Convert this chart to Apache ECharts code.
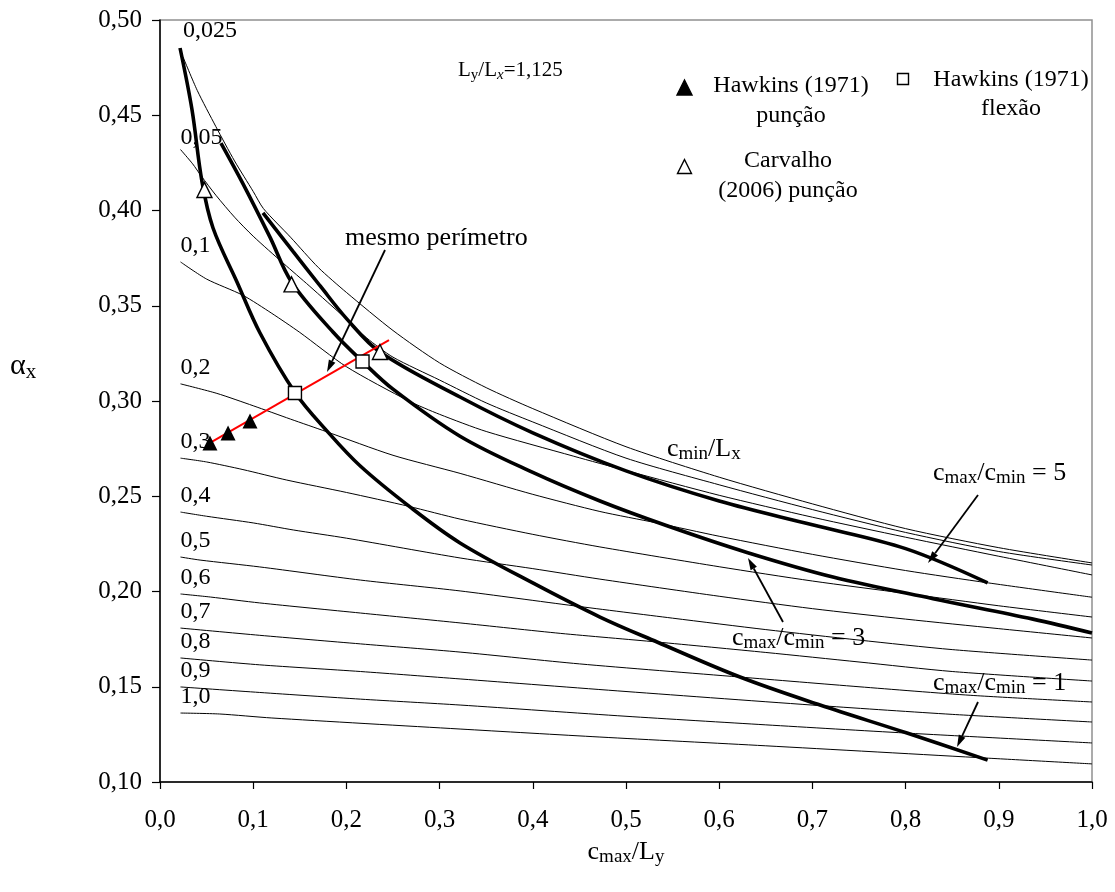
<!DOCTYPE html>
<html>
<head>
<meta charset="utf-8">
<script src="https://cdn.jsdelivr.net/npm/echarts@6/dist/echarts.min.js"></script>
<style>
html,body{margin:0;padding:0;background:#fff;}
#chart{width:1115px;height:892px;}
</style>
</head>
<body>
<div id="chart"></div>
<script>
// ---------- tick labels ----------
const xTickLabels = ['0,0','0,1','0,2','0,3','0,4','0,5','0,6','0,7','0,8','0,9','1,0'];
const yTickLabels = ['0,10','0,15','0,20','0,25','0,30','0,35','0,40','0,45','0,50'];

// ---------- thin curves: c_min/L_x = constant ----------
const curveNames = ['0,025','0,05','0,1','0,2','0,3','0,4','0,5','0,6','0,7','0,8','0,9','1,0'];
const c0025 = [[0.0247,0.4806],[0.04,0.463],[0.06,0.444],[0.08,0.426],[0.1,0.410],[0.111,0.401],[0.14,0.386],[0.17,0.370],[0.2,0.357],[0.25,0.337],[0.3,0.320],[0.35,0.307],[0.4,0.296],[0.5,0.276],[0.6,0.260],[0.7,0.246],[0.8,0.233],[0.9,0.223],[1.0,0.215]];
const c005 = [[0.022,0.432],[0.035,0.4245],[0.0444,0.418],[0.06,0.408],[0.08,0.3965],[0.1,0.3865],[0.133,0.372],[0.16,0.3605],[0.2,0.343],[0.222,0.333],[0.25,0.323],[0.3,0.311],[0.35,0.299],[0.4,0.289],[0.5,0.270],[0.6,0.256],[0.7,0.243],[0.8,0.231],[0.9,0.221],[1.0,0.2139]];
const c01 = [[0.022,0.373],[0.05,0.364],[0.0889,0.3555],[0.12,0.346],[0.15,0.336],[0.2,0.318],[0.267,0.300],[0.3,0.293],[0.35,0.284],[0.444,0.271],[0.5,0.2635],[0.6,0.2505],[0.7,0.239],[0.8,0.2285],[0.9,0.2185],[1.0,0.2087]];
const c02 = [[0.022,0.309],[0.061,0.304],[0.1,0.2975],[0.14,0.2905],[0.178,0.284],[0.25,0.2715],[0.322,0.262],[0.4,0.251],[0.472,0.242],[0.533,0.236],[0.6,0.229],[0.7,0.2195],[0.8,0.211],[0.889,0.2045],[1.0,0.197]];
const c03 = [[0.022,0.270],[0.05,0.268],[0.089,0.264],[0.136,0.2585],[0.2,0.252],[0.267,0.2447],[0.322,0.238],[0.4,0.230],[0.472,0.2234],[0.6,0.213],[0.7,0.2055],[0.8,0.199],[0.9,0.1925],[1.0,0.1866]];
const c04 = [[0.022,0.2417],[0.05,0.2395],[0.1,0.236],[0.143,0.2323],[0.2,0.228],[0.322,0.2176],[0.4,0.212],[0.472,0.2065],[0.6,0.1975],[0.7,0.191],[0.8,0.1855],[0.9,0.1805],[1.0,0.1756]];
const c05 = [[0.022,0.2181],[0.043,0.2165],[0.107,0.2129],[0.215,0.206],[0.322,0.2003],[0.444,0.1925],[0.55,0.186],[0.65,0.180],[0.75,0.1745],[0.85,0.1695],[1.0,0.164]];
const c06 = [[0.022,0.1987],[0.054,0.1971],[0.107,0.194],[0.215,0.1887],[0.322,0.1835],[0.43,0.178],[0.533,0.1735],[0.65,0.168],[0.75,0.163],[0.85,0.158],[1.0,0.153]];
const c07 = [[0.022,0.1808],[0.107,0.177],[0.215,0.1725],[0.322,0.1682],[0.45,0.162],[0.622,0.1551],[0.75,0.150],[0.87,0.1455],[1.0,0.142]];
const c08 = [[0.022,0.1651],[0.107,0.1615],[0.215,0.158],[0.322,0.1541],[0.5,0.1475],[0.711,0.140],[0.85,0.1355],[1.0,0.1315]];
const c09 = [[0.022,0.1499],[0.107,0.147],[0.215,0.1435],[0.322,0.1404],[0.5,0.1345],[0.65,0.130],[0.8,0.1257],[1.0,0.1205]];
const c10 = [[0.022,0.1362],[0.064,0.1357],[0.12,0.1336],[0.322,0.1278],[0.472,0.1236],[0.65,0.119],[0.889,0.1125],[1.0,0.1095]];
const thinCurves = [c0025,c005,c01,c02,c03,c04,c05,c06,c07,c08,c09,c10];

// ---------- thick curves: c_max/c_min = constant ----------
const ratio1 = [[0.0215,0.4853],[0.0343,0.453],[0.0451,0.4150],[0.0569,0.3908],[0.0826,0.3625],[0.1073,0.3357],[0.1448,0.3045],[0.18,0.2838],[0.2146,0.2660],[0.2682,0.2444],[0.3219,0.2255],[0.4,0.2045],[0.4721,0.1866],[0.5333,0.1735],[0.6223,0.1551],[0.7082,0.1404],[0.8015,0.1257],[0.888,0.1115]];
const ratio3 = [[0.0654,0.4354],[0.0891,0.4140],[0.118,0.386],[0.1411,0.3625],[0.1856,0.3362],[0.2173,0.3207],[0.25,0.3062],[0.3219,0.2815],[0.4,0.2625],[0.4721,0.2475],[0.544,0.2345],[0.6298,0.2205],[0.7221,0.2076],[0.8294,0.1962],[0.9367,0.1855],[1.0,0.1782]];
const ratio5 = [[0.1105,0.3987],[0.1427,0.3785],[0.1717,0.3605],[0.2006,0.343],[0.236,0.3257],[0.3219,0.3021],[0.4,0.2833],[0.5,0.2633],[0.6,0.2475],[0.7,0.235],[0.8,0.2225],[0.888,0.2045]];

// ---------- "mesmo perímetro" line and experimental points ----------
const samePerimeter = [[0.0536,0.278],[0.2457,0.332]];
const hawkinsPuncao = [[0.0536,0.278],[0.073,0.2832],[0.0966,0.2895]];
const hawkinsFlexao = [[0.1448,0.3042],[0.2173,0.3207]];
const carvalhoPuncao = [[0.0477,0.4108],[0.1411,0.3612],[0.236,0.3257]];

const F = '"Liberation Serif","Times New Roman",serif';

const series = [];
thinCurves.forEach((d, i) => {
  series.push({
    type: 'line', name: 'cmin/Lx = ' + curveNames[i], data: d,
    showSymbol: false, symbol: 'none', smooth: 0.25,
    lineStyle: {color: '#000', width: 1}, silent: true, z: 2
  });
});
[ratio1, ratio3, ratio5].forEach((d, i) => {
  series.push({
    type: 'line', name: 'cmax/cmin = ' + [1,3,5][i], data: d,
    showSymbol: false, symbol: 'none', smooth: 0.35,
    lineStyle: {color: '#000', width: 3.6, cap: 'butt'}, silent: true, z: 3
  });
});
series.push({
  type: 'line', name: 'mesmo perímetro', data: samePerimeter,
  showSymbol: false, symbol: 'none', lineStyle: {color: '#ff0000', width: 2}, silent: true, z: 4
});
// curve labels attached to the start of each thin curve
const labelDist = {'0,025': 14, '0,05': 0};
series.push({
  type: 'scatter', name: 'labels', silent: true, z: 1,
  symbolSize: 0, itemStyle: {opacity: 1},
  data: thinCurves.map((d, i) => ({
    value: d[0],
    label: {
      show: true, position: 'top', align: 'left',
      distance: (labelDist[curveNames[i]] !== undefined ? labelDist[curveNames[i]] : 4),
      formatter: curveNames[i], color: '#000', fontFamily: F, fontSize: 24
    }
  }))
});
series.push({
  type: 'scatter', name: 'Hawkins (1971) punção', data: hawkinsPuncao, symbol: 'triangle',
  symbolSize: 15, itemStyle: {color: '#000', opacity: 1}, silent: true, z: 6
});
series.push({
  type: 'scatter', name: 'Hawkins (1971) flexão', data: hawkinsFlexao, symbol: 'rect',
  symbolSize: 13, itemStyle: {color: '#fff', borderColor: '#000', borderWidth: 1.4, opacity: 1}, silent: true, z: 6
});
series.push({
  type: 'scatter', name: 'Carvalho (2006) punção', data: carvalhoPuncao, symbol: 'triangle',
  symbolSize: 15, itemStyle: {color: '#fff', borderColor: '#000', borderWidth: 1.4, opacity: 1}, silent: true, z: 6
});

const option = {
  animation: false,
  backgroundColor: '#fff',
  grid: {left: 160, right: 23, top: 20, bottom: 110, show: true, borderColor: '#909090', borderWidth: 1.5,
         backgroundColor: 'transparent', containLabel: false, outerBoundsMode: 'none'},
  xAxis: {
    type: 'value', min: 0, max: 1, interval: 0.1,
    axisLine: {show: true, lineStyle: {color: '#000', width: 1.5}},
    axisTick: {show: true, inside: false, length: 7, lineStyle: {color: '#000', width: 1.2}},
    splitLine: {show: false},
    axisLabel: {margin: 26, color: '#000', fontFamily: F, fontSize: 25,
      formatter: v => xTickLabels[Math.round(v * 10)]}
  },
  yAxis: {
    type: 'value', min: 0.1, max: 0.5, interval: 0.05,
    axisLine: {show: true, lineStyle: {color: '#000', width: 1.5}},
    axisTick: {show: true, inside: false, length: 8, lineStyle: {color: '#000', width: 1.2}},
    splitLine: {show: false},
    axisLabel: {margin: 18, color: '#000', fontFamily: F, fontSize: 25,
      formatter: v => yTickLabels[Math.round((v - 0.1) / 0.05)]}
  },
  series: series
};

const chart = echarts.init(document.getElementById('chart'));
chart.setOption(option);

// ---------- annotations ----------
function richStyles(main, sub) {
  return {
    m: {fontFamily: F, fontSize: main, lineHeight: main + 4, fill: '#000'},
    s: {fontFamily: F, fontSize: sub, lineHeight: sub, verticalAlign: 'bottom', fill: '#000'},
    i: {fontFamily: F, fontSize: sub, lineHeight: sub, verticalAlign: 'bottom', fill: '#000', fontStyle: 'italic'}
  };
}
function rich(x, y, text, main, sub, align) {
  return {type: 'text', x: x, y: y, silent: true, z: 50,
    style: {text: text, rich: richStyles(main, sub), align: align || 'left', verticalAlign: 'middle', fill: '#000'}};
}
function plain(x, y, text, size, align, lh) {
  return {type: 'text', x: x, y: y, silent: true, z: 50,
    style: {text: text, fontFamily: F, fontSize: size, lineHeight: lh || size + 4, fill: '#000',
            align: align || 'left', verticalAlign: 'middle'}};
}
function arrow(x1, y1, x2, y2) {
  const a = Math.atan2(y2 - y1, x2 - x1), L = 12, W = 3.6;
  const bx = x2 - L * Math.cos(a), by = y2 - L * Math.sin(a);
  const nx = -Math.sin(a), ny = Math.cos(a);
  return [
    {type: 'line', silent: true, z: 40, shape: {x1: x1, y1: y1, x2: bx, y2: by}, style: {stroke: '#000', lineWidth: 1.8}},
    {type: 'polygon', silent: true, z: 40, shape: {points: [[x2, y2], [bx + nx * W, by + ny * W], [bx - nx * W, by - ny * W]]}, style: {fill: '#000'}}
  ];
}
function tri(cx, cy, s, filled) {
  return {type: 'polygon', silent: true, z: 50,
    shape: {points: [[cx, cy - s / 2], [cx + s / 2, cy + s / 2], [cx - s / 2, cy + s / 2]]},
    style: {fill: filled ? '#000' : '#fff', stroke: '#000', lineWidth: 1.4}};
}

const graphics = [
  // axis titles
  {type: 'text', x: 10, y: 366, silent: true, z: 50,
   style: {text: '{a|α}{s|x}', align: 'left', verticalAlign: 'middle', fill: '#000',
     rich: {a: {fontFamily: F, fontSize: 30, lineHeight: 34, fill: '#000'},
            s: {fontFamily: F, fontSize: 21, lineHeight: 21, verticalAlign: 'bottom', fill: '#000'}}}},
  rich(626, 852, '{m|c}{s|max}{m|/L}{s|y}', 26, 19, 'center'),
  // plot annotations
  rich(458, 70, '{m|L}{s|y}{m|/L}{i|x}{m|=1,125}', 21, 15),
  plain(345, 238, 'mesmo perímetro', 26),
  rich(667, 449, '{m|c}{s|min}{m|/L}{s|x}', 26, 19),
  rich(933, 473, '{m|c}{s|max}{m|/c}{s|min}{m| = 5}', 26, 19),
  rich(732, 638, '{m|c}{s|max}{m|/c}{s|min}{m| = 3}', 26, 19),
  rich(933, 683, '{m|c}{s|max}{m|/c}{s|min}{m| = 1}', 26, 19),
  // legend
  tri(684.5, 87.5, 15, true),
  plain(791, 101, 'Hawkins (1971)\npunção', 24, 'center', 30),
  tri(684.5, 166.5, 14, false),
  plain(788, 176, 'Carvalho\n(2006) punção', 24, 'center', 30),
  {type: 'rect', silent: true, z: 50, shape: {x: 897.5, y: 73.5, width: 11, height: 11},
   style: {fill: '#fff', stroke: '#000', lineWidth: 1.4}},
  plain(1011, 94, 'Hawkins (1971)\nflexão', 24, 'center', 29)
].concat(arrow(385, 250, 327, 372), arrow(978, 495, 928, 563), arrow(783, 622, 748, 558), arrow(978, 702, 957, 747));

chart.setOption({graphic: graphics});
</script>
</body>
</html>
